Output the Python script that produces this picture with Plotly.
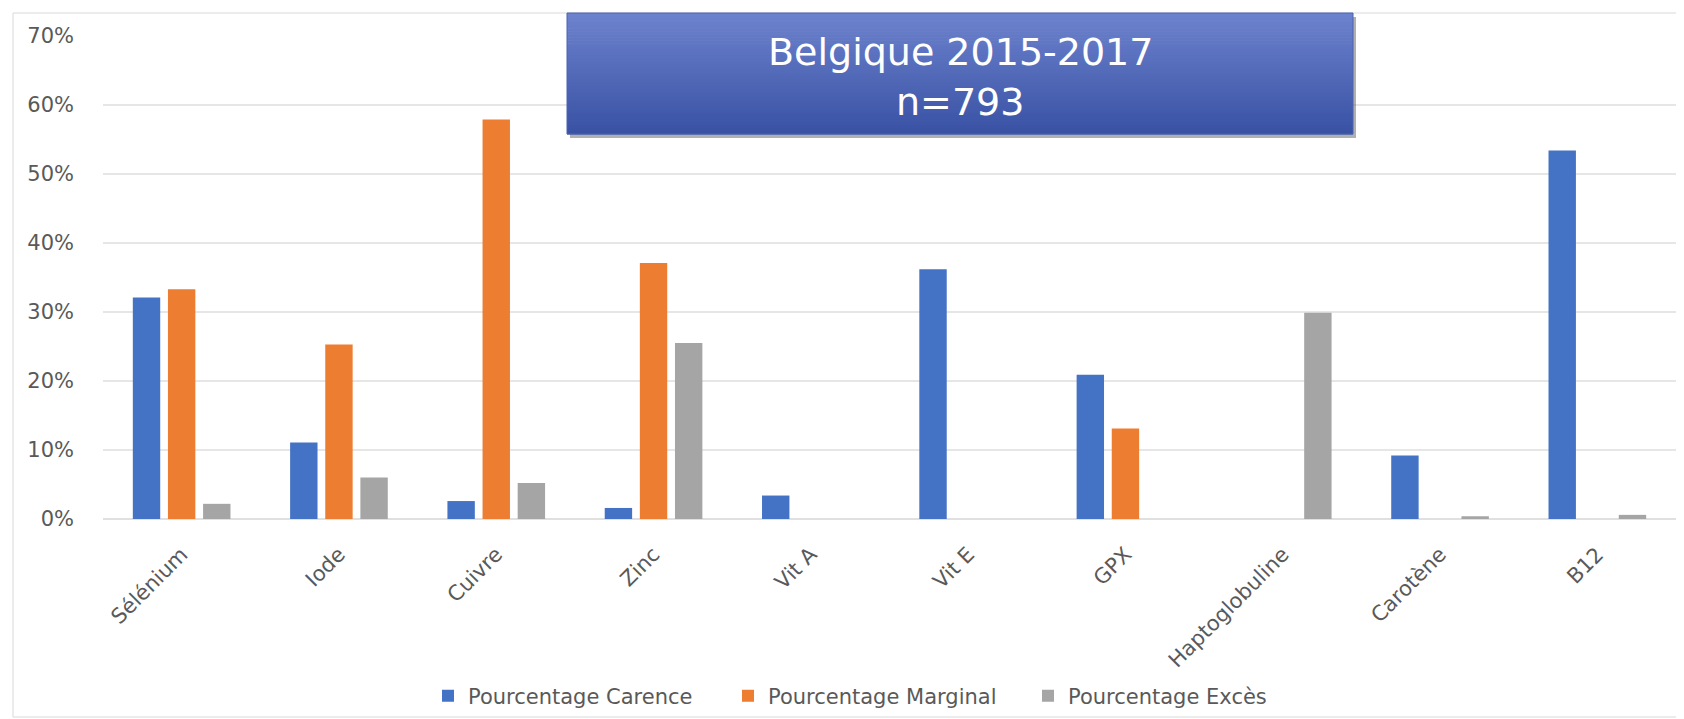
import plotly.graph_objects as go

categories = ["Sélénium", "Iode", "Cuivre", "Zinc", "Vit A", "Vit E", "GPX",
              "Haptoglobuline", "Carotène", "B12"]
carence = [0.321, 0.111, 0.026, 0.016, 0.034, 0.362, 0.209, None, 0.092, 0.534]
marginal = [0.333, 0.253, 0.579, 0.371, None, None, 0.131, None, None, None]
exces = [0.022, 0.060, 0.052, 0.255, None, None, None, 0.299, 0.004, 0.006]
series_names = ["Pourcentage Carence", "Pourcentage Marginal", "Pourcentage Excès"]
colors = ["#4472C4", "#ED7D31", "#A5A5A5"]
title_lines = ["Belgique 2015-2017", "n=793"]

# the page body adds an 8px offset; figure is sized to compensate
OFF = 8
W, H = 1684 - OFF, 719 - OFF
PL, PR, PT, PB = 103, 1676, 36, 519   # plot area in screen pixels
ML, MT = PL - OFF, PT - OFF
MR = W + OFF - PR
MB = H + OFF - PB
PW = PR - PL
PH = PB - PT

def px_x(p):
    return (p - PL) / PW

def px_y(p):
    return (PB - p) / PH

FONT = "DejaVu Sans"
TXT = "#595959"

fig = go.Figure()
for name, vals, col in zip(series_names, [carence, marginal, exces], colors):
    fig.add_trace(go.Bar(x=categories, y=vals, name=name, marker_color=col,
                         marker_line_width=0))

shapes = []
shapes.append(dict(type="rect", xref="paper", yref="paper",
                   x0=px_x(13), x1=px_x(1680), y0=px_y(717), y1=px_y(13),
                   line=dict(color="#d9d9d9", width=1), fillcolor="rgba(0,0,0,0)",
                   layer="below"))
bx0, bx1, by0, by1 = 567, 1353, 13, 134
shapes.append(dict(type="rect", xref="paper", yref="paper",
                   x0=px_x(bx0 + 3), x1=px_x(bx1 + 3), y0=px_y(by1 + 4), y1=px_y(by0 + 4),
                   line=dict(width=0), fillcolor="rgba(80,80,80,0.45)", layer="above"))
n = 40
top = (108, 130, 206)
bot = (58, 82, 164)
for i in range(n):
    t = i / (n - 1)
    c = tuple(int(round(top[k] + (bot[k] - top[k]) * t)) for k in range(3))
    ya = by0 + (by1 - by0) * i / n
    yb = by0 + (by1 - by0) * (i + 1) / n
    shapes.append(dict(type="rect", xref="paper", yref="paper",
                       x0=px_x(bx0), x1=px_x(bx1), y0=px_y(yb + 0.6), y1=px_y(ya),
                       line=dict(width=0), fillcolor="rgb(%d,%d,%d)" % c, layer="above"))
shapes.append(dict(type="rect", xref="paper", yref="paper",
                   x0=px_x(bx0), x1=px_x(bx1), y0=px_y(by1), y1=px_y(by0),
                   line=dict(color="#4a62b0", width=1), fillcolor="rgba(0,0,0,0)",
                   layer="above"))

annotations = []
for line, ypix in zip(title_lines, [52, 102]):
    annotations.append(dict(text=line, xref="paper", yref="paper",
                            x=px_x((bx0 + bx1) / 2), y=px_y(ypix),
                            xanchor="center", yanchor="middle", showarrow=False,
                            font=dict(family=FONT, size=38, color="white")))

fig.update_layout(
    width=W, height=H,
    margin=dict(l=ML, r=MR, t=MT, b=MB, autoexpand=False),
    paper_bgcolor="white", plot_bgcolor="white",
    barmode="group", bargap=0.33, bargroupgap=0.22,
    font=dict(family=FONT, color=TXT, size=17),
    shapes=shapes,
    annotations=annotations,
    legend=dict(orientation="h", x=px_x(428), y=px_y(696), xanchor="left",
                yanchor="middle", font=dict(size=21, color=TXT), traceorder="normal",
                itemwidth=30, entrywidth=255, entrywidthmode="pixels",
                bgcolor="rgba(0,0,0,0)"),
    xaxis=dict(tickangle=-45, showgrid=False, showline=False, ticks="",
               tickfont=dict(size=21, color=TXT), ticklabelstandoff=18),
    yaxis=dict(range=[0, 0.7], dtick=0.1, tickformat=".0%", showgrid=True,
               gridcolor="#e6e6e6", gridwidth=1.5, zeroline=True,
               zerolinecolor="#e0e0e0", zerolinewidth=1.5, showline=False,
               ticks="", tickfont=dict(size=21, color=TXT), ticklabelstandoff=28),
)

fig.write_html("out.html")
